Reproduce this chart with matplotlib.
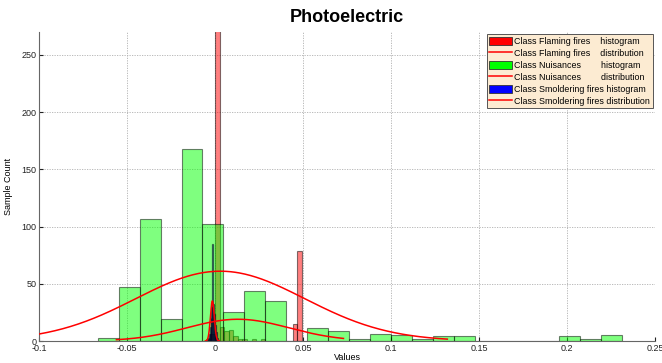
import numpy as np
import matplotlib.pyplot as plt
from matplotlib.patches import Patch
from matplotlib.lines import Line2D

plt.rcParams['font.family'] = ['Liberation Sans', 'DejaVu Sans']

# histogram counts (bin start, bin width, counts)
flam_start = -0.0052
flam_width = 0.0026
flam_counts = [2, 6, 520, 12, 9, 10, 4, 2, 2, 0, 2, 0, 2, 0, 0, 0, 0, 0, 0, 15, 79]

nuis_start = -0.0667
nuis_width = 0.01192
nuis_counts = [3, 47, 107, 19, 168, 102, 25, 44, 35, 0, 11, 9, 2, 6, 5, 2,
               4, 4, 0, 0, 0, 0, 4, 2, 5]

smol_start = -0.0045
smol_width = 0.0005
smol_counts = [1, 3, 6, 12, 20, 30, 85, 32, 24, 14, 8, 3, 1]

# fitted normal curves: mean, sigma, peak height, drawn range
flam_fit = dict(mu=-0.0015, sigma=0.0011, peak=35, lo=-0.0055, hi=0.0025)
nuis_fit = dict(mu=0.003, sigma=0.048, peak=61, lo=-0.12, hi=0.132)
smol_fit = dict(mu=0.013, sigma=0.029, peak=19, lo=-0.056, hi=0.073)

legend_labels = ['Class Flaming fires    histogram',
                 'Class Flaming fires    distribution',
                 'Class Nuisances        histogram',
                 'Class Nuisances        distribution',
                 'Class Smoldering fires histogram',
                 'Class Smoldering fires distribution']

fig = plt.figure(figsize=(6.62, 3.63), dpi=100)
ax = fig.add_axes([0.0589, 0.0606, 0.9305, 0.8512])


def draw_hist(start, width, counts, color, lw=0.8, ec=(0, 0, 0, 0.6)):
    counts = np.array(counts)
    lefts = start + width * np.arange(len(counts))
    ax.bar(lefts, counts, width=width, align='edge', color=color, alpha=0.5,
           edgecolor=ec, linewidth=lw, zorder=2)


def draw_fit(fit):
    xs = np.linspace(fit['lo'], fit['hi'], 400)
    ys = fit['peak'] * np.exp(-(xs - fit['mu']) ** 2 / (2 * fit['sigma'] ** 2))
    ax.plot(xs, ys, color='red', lw=1.1, zorder=4)


draw_hist(flam_start, flam_width, flam_counts, 'red')
draw_fit(flam_fit)
draw_hist(nuis_start, nuis_width, nuis_counts, (0, 1, 0))
draw_fit(nuis_fit)
draw_hist(smol_start, smol_width, smol_counts, 'blue', lw=0.9, ec='black')
draw_fit(smol_fit)

ax.set_xlim(-0.1, 0.25)
ax.set_ylim(0, 270)
ax.set_xticks([-0.1, -0.05, 0, 0.05, 0.1, 0.15, 0.2, 0.25])
ax.set_xticklabels(['-0.1', '-0.05', '0', '0.05', '0.1', '0.15', '0.2', '0.25'])
ax.set_yticks([0, 50, 100, 150, 200, 250])
ax.grid(True, linestyle=(0, (1.5, 1.5)), color='#b0b0b0', linewidth=0.6)
ax.set_axisbelow(True)
for s in ['top', 'right']:
    ax.spines[s].set_visible(False)
for s in ['left', 'bottom']:
    ax.spines[s].set_color('#666666')
ax.tick_params(direction='in', length=3, labelsize=6.5, colors='#222222', pad=2)

ax.set_title('Photoelectric', fontsize=13, fontweight='bold', pad=7)
ax.set_xlabel('Values', fontsize=6.5, labelpad=0)
ax.set_ylabel('Sample Count', fontsize=6.5, labelpad=6)

handles = [Patch(facecolor='red', edgecolor='#333333', lw=0.6),
           Line2D([], [], color='red', lw=1.1),
           Patch(facecolor=(0, 1, 0), edgecolor='#333333', lw=0.6),
           Line2D([], [], color='red', lw=1.1),
           Patch(facecolor='blue', edgecolor='#333333', lw=0.6),
           Line2D([], [], color='red', lw=1.1)]
leg = ax.legend(handles, legend_labels, loc='upper right', fontsize=6.4,
                fancybox=False, framealpha=1, facecolor='#fcebd2',
                edgecolor='#555555', handlelength=2.6, handleheight=1.0,
                handletextpad=0.2, labelspacing=0.33, borderpad=0.3,
                borderaxespad=0.25)
leg.get_frame().set_linewidth(0.7)
leg.set_zorder(10)

fig.savefig('out.png', dpi=100)
